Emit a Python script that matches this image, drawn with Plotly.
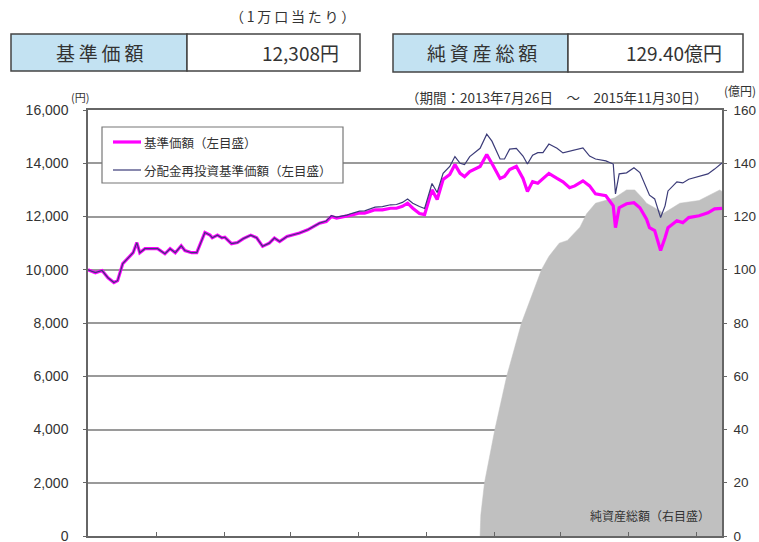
import plotly.graph_objects as go

# ---------------- data ----------------
dates = [
    "2013-07-26", "2013-08-05", "2013-08-14", "2013-08-22", "2013-08-30", "2013-09-04",
    "2013-09-11", "2013-09-18", "2013-09-25", "2013-09-30", "2013-10-04", "2013-10-11",
    "2013-10-21", "2013-10-28", "2013-11-07", "2013-11-14", "2013-11-21", "2013-11-29",
    "2013-12-04", "2013-12-13", "2013-12-20", "2013-12-24", "2013-12-31", "2014-01-07",
    "2014-01-10", "2014-01-17", "2014-01-23", "2014-01-27", "2014-02-05", "2014-02-13",
    "2014-02-21", "2014-03-03", "2014-03-11", "2014-03-19", "2014-03-28", "2014-04-04",
    "2014-04-11", "2014-04-21", "2014-04-29", "2014-05-08", "2014-05-19", "2014-05-28",
    "2014-06-04", "2014-06-13", "2014-06-20", "2014-06-27", "2014-07-11", "2014-07-18",
    "2014-07-28", "2014-08-04", "2014-08-11", "2014-08-18", "2014-08-28", "2014-09-08",
    "2014-09-16", "2014-09-24", "2014-10-01", "2014-10-08", "2014-10-17", "2014-10-24",
    "2014-11-03", "2014-11-10", "2014-11-18", "2014-11-27", "2014-12-04", "2014-12-11",
    "2014-12-17", "2014-12-24", "2015-01-07", "2015-01-16", "2015-01-23", "2015-02-03",
    "2015-02-09", "2015-02-16", "2015-02-25", "2015-03-06", "2015-03-12", "2015-03-19",
    "2015-03-26", "2015-04-02", "2015-04-10", "2015-04-21", "2015-04-29", "2015-05-08",
    "2015-05-15", "2015-05-26", "2015-06-04", "2015-06-12", "2015-06-26", "2015-07-06",
    "2015-07-09", "2015-07-14", "2015-07-24", "2015-08-03", "2015-08-11", "2015-08-20",
    "2015-08-24", "2015-08-31", "2015-09-08", "2015-09-14", "2015-09-18", "2015-09-30",
    "2015-10-08", "2015-10-16", "2015-10-30", "2015-11-11", "2015-11-20", "2015-11-30",
]

nav = [
    10000, 9890, 9970, 9700, 9520, 9590,
    10230, 10420, 10640, 11020, 10640, 10790,
    10790, 10790, 10600, 10790, 10640, 10900,
    10720, 10640, 10640, 10900, 11400, 11300,
    11200, 11300, 11200, 11220, 10980, 11020,
    11170, 11300, 11200, 10880, 11000, 11190,
    11060, 11250, 11310, 11380, 11500, 11630,
    11750, 11810, 12000, 11940, 12000, 12060,
    12130, 12130, 12190, 12250, 12250, 12310,
    12310, 12380, 12500, 12310, 12110, 12070,
    13000, 12640, 13390, 13580, 13950, 13620,
    13500, 13690, 13880, 14330, 13990, 13430,
    13500, 13760, 13880, 13430, 12940, 13310,
    13250, 13430, 13620, 13430, 13300, 13080,
    13150, 13340, 13150, 12850, 12780, 12400,
    11580, 12330, 12480, 12520, 12330, 11900,
    11580, 11470, 10720, 11200, 11580, 11840,
    11770, 11960, 12030, 12140, 12290, 12308,
]

nav_reinvested = [
    10000, 9890, 9970, 9700, 9520, 9590,
    10230, 10420, 10640, 11020, 10640, 10790,
    10790, 10790, 10600, 10790, 10640, 10900,
    10720, 10640, 10640, 10900, 11400, 11300,
    11200, 11300, 11200, 11220, 10980, 11020,
    11170, 11300, 11200, 10880, 11000, 11190,
    11060, 11250, 11310, 11380, 11500, 11630,
    11750, 11830, 12030, 11980, 12050, 12120,
    12200, 12210, 12280, 12350, 12370, 12440,
    12450, 12530, 12660, 12500, 12375, 12300,
    13240, 12900, 13620, 13880, 14250, 14000,
    13950, 14250, 14560, 15090, 14830, 14160,
    14160, 14530, 14560, 14270, 13970, 14300,
    14400, 14400, 14720, 14560, 14390, 14460,
    14520, 14580, 14270, 14160, 14090, 13970,
    12850, 13600, 13640, 13830, 13650, 13100,
    12800, 12660, 11960, 12400, 12960, 13300,
    13260, 13400, 13520, 13600, 13780, 14010,
]

asset_dates = [
    "2015-01-07", "2015-01-08", "2015-01-13", "2015-01-27", "2015-02-12", "2015-03-04",
    "2015-03-31", "2015-04-10", "2015-04-24", "2015-05-05", "2015-05-22", "2015-05-31",
    "2015-06-12", "2015-06-26", "2015-07-08", "2015-07-24", "2015-08-04", "2015-08-14",
    "2015-08-20", "2015-09-08", "2015-09-11", "2015-10-04", "2015-10-30", "2015-11-27",
    "2015-11-30",
]
net_assets = [
    0, 8, 20, 40, 60, 80,
    100, 105, 110, 111, 116, 121,
    125, 126, 127, 130, 130, 127,
    125, 122, 121, 125, 126, 130,
    129.4,
]

left_ticks = [0, 2000, 4000, 6000, 8000, 10000, 12000, 14000, 16000]
right_ticks = [0, 20, 40, 60, 80, 100, 120, 140, 160]

name_nav = "基準価額（左目盛）"
name_reinv = "分配金再投資基準価額（左目盛）"
name_assets = "純資産総額（右目盛）"
period_text = "（期間：2013年7月26日　～　2015年11月30日）"
unit_text = "（\u20091\u2009万\u2009口\u2009当\u2009た\u2009り\u2009）"
nav_label = "基\u2009準\u2009価\u2009額"
nav_value = "12,308円"
asset_label = "純\u2009資\u2009産\u2009総\u2009額"
asset_value = "129.40億円"
left_unit = "(円)"
right_unit = "(億円)"

# ---------------- layout geometry ----------------
W, H = 759, 542
ML, MR, MT, MB = 88, 37, 110, 6
PW, PH = W - ML - MR, H - MT - MB


def fx(p):
    return (p - ML) / PW


def fy(p):
    return (H - MB - p) / PH


FONT = "Liberation Sans, Arial, Noto Sans CJK JP, sans-serif"
JFONT = "Noto Sans CJK JP, Liberation Sans, sans-serif"
TXT = "#333333"

fig = go.Figure()

fig.add_trace(go.Scatter(
    x=asset_dates, y=net_assets, yaxis="y", mode="lines",
    line=dict(color="#c0c0c0", width=0.5), fill="tozeroy", fillcolor="#c0c0c0",
    name=name_assets, showlegend=False, hoverinfo="skip",
))
fig.add_trace(go.Scatter(
    x=dates, y=nav, yaxis="y2", mode="lines",
    line=dict(color="#ff00ff", width=3.2), name=name_nav, showlegend=False,
))
fig.add_trace(go.Scatter(
    x=dates, y=nav_reinvested, yaxis="y2", mode="lines",
    line=dict(color="#3b3b78", width=1.2), name=name_reinv, showlegend=False,
))

shapes = []
annotations = []


def box(x0, x1, xs, y0, y1):
    shapes.append(dict(type="rect", xref="paper", yref="paper",
                       x0=fx(x0), x1=fx(xs), y0=fy(y1), y1=fy(y0),
                       fillcolor="#c3e2f2", line=dict(color="#444444", width=1.5)))
    shapes.append(dict(type="rect", xref="paper", yref="paper",
                       x0=fx(xs), x1=fx(x1), y0=fy(y1), y1=fy(y0),
                       fillcolor="white", line=dict(color="#444444", width=1.5)))


box(11, 360, 187, 34, 71)
box(393, 743, 568, 34, 72)


def ann(text, x, y, anchor, size):
    annotations.append(dict(text=text, x=fx(x), y=fy(y), xref="paper", yref="paper",
                            showarrow=False, xanchor=anchor, yanchor="middle",
                            font=dict(family=JFONT, size=size, color=TXT)))


ann(unit_text, 292, 16, "center", 14)
ann(nav_label, 99, 53, "center", 19)
ann(nav_value, 341, 53, "right", 19)
ann(asset_label, 482, 53, "center", 19)
ann(asset_value, 724, 53, "right", 19)
ann(left_unit, 80, 97, "center", 11)
ann(right_unit, 740, 90, "center", 12)
ann(period_text, 556, 97, "center", 13.5)
ann(name_assets, 712, 515, "right", 12)

# legend box (manual)
shapes.append(dict(type="rect", xref="paper", yref="paper",
                   x0=fx(102), x1=fx(343), y0=fy(183), y1=fy(127),
                   fillcolor="white", line=dict(color="#777777", width=1.2)))
shapes.append(dict(type="line", xref="paper", yref="paper",
                   x0=fx(113), x1=fx(141), y0=fy(142), y1=fy(142),
                   line=dict(color="#ff00ff", width=3.2)))
shapes.append(dict(type="line", xref="paper", yref="paper",
                   x0=fx(113), x1=fx(141), y0=fy(170), y1=fy(170),
                   line=dict(color="#3b3b78", width=1.2)))
ann(name_nav, 142, 142, "left", 12.5)
ann(name_reinv, 142, 170, "left", 12.5)

fig.update_layout(
    width=W, height=H,
    margin=dict(l=ML, r=MR, t=MT, b=MB, autoexpand=False),
    paper_bgcolor="white", plot_bgcolor="white",
    font=dict(family=FONT, size=14, color=TXT),
    showlegend=False,
    xaxis=dict(
        type="date", range=["2013-07-26", "2015-11-30"],
        tick0="2013-07-26", dtick="M3", showticklabels=False,
        ticks="inside", ticklen=4, tickcolor="#666666", automargin=False,
        showgrid=False, zeroline=False,
        showline=True, mirror=True, linecolor="#666666", linewidth=1.5,
    ),
    yaxis=dict(
        side="right", range=[0, 160], tickvals=right_ticks,
        ticks="outside", ticklen=3, tickcolor="#666666", automargin=False,
        ticklabelstandoff=4, ticklabeloverflow="allow",
        showgrid=True, gridcolor="#9a9a9a", gridwidth=1.5,
        zeroline=False, showline=True, linecolor="#666666", linewidth=1.5,
        tickfont=dict(family=FONT, size=13.5, color=TXT),
    ),
    yaxis2=dict(
        side="left", overlaying="y", range=[0, 16000], tickvals=left_ticks,
        tickformat=",d", ticks="outside", ticklen=3, tickcolor="#666666",
        automargin=False,
        ticklabelstandoff=12, ticklabeloverflow="allow",
        showgrid=False, zeroline=False,
        showline=True, linecolor="#666666", linewidth=1.5,
        tickfont=dict(family=FONT, size=14, color=TXT),
    ),
    shapes=shapes,
    annotations=annotations,
)

fig.write_html(
    "out.html",
    config={"displayModeBar": False},
    post_script="document.body.style.margin='0px';document.body.style.overflow='hidden';",
)
